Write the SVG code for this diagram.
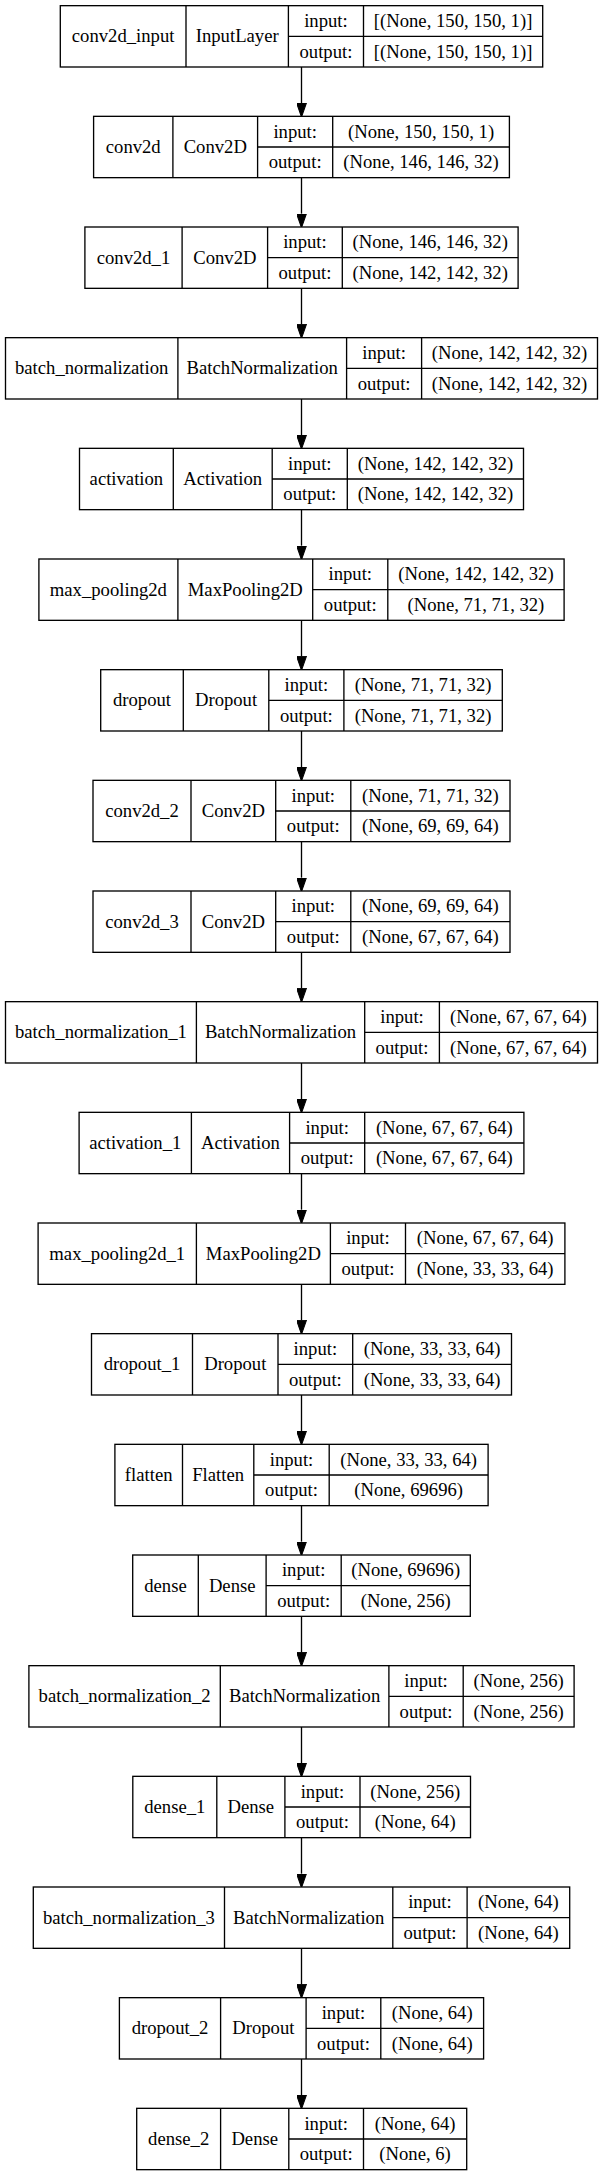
<svg xmlns="http://www.w3.org/2000/svg" width="603" height="2176" viewBox="0 0 603 2176">
<style>
.box{fill:#fff;stroke:#000;stroke-width:1.33}
.div{fill:none;stroke:#000;stroke-width:1.33}
text{font-family:"Liberation Serif","Times New Roman",serif;font-size:18.67px;fill:#000;text-anchor:middle}
.edge{stroke:#000;stroke-width:1.33;fill:none}
</style>
<defs>
<marker id="ah" markerUnits="userSpaceOnUse" markerWidth="14" markerHeight="10" refX="0" refY="4.67" orient="auto" viewBox="0 0 13.33 9.33">
<path d="M0,0 L13.33,4.67 L0,9.33 z" fill="#000" stroke="#000" stroke-width="1"/>
</marker>
</defs>
<rect x="0" y="0" width="603" height="2176" fill="#fff"/>
<g id="edges">
<line class="edge" x1="301.5" y1="67" x2="301.5" y2="103" marker-end="url(#ah)"/>
<line class="edge" x1="301.5" y1="177.67" x2="301.5" y2="213.67" marker-end="url(#ah)"/>
<line class="edge" x1="301.5" y1="288.33" x2="301.5" y2="324.33" marker-end="url(#ah)"/>
<line class="edge" x1="301.5" y1="399" x2="301.5" y2="435" marker-end="url(#ah)"/>
<line class="edge" x1="301.5" y1="509.67" x2="301.5" y2="545.67" marker-end="url(#ah)"/>
<line class="edge" x1="301.5" y1="620.33" x2="301.5" y2="656.33" marker-end="url(#ah)"/>
<line class="edge" x1="301.5" y1="731" x2="301.5" y2="767" marker-end="url(#ah)"/>
<line class="edge" x1="301.5" y1="841.67" x2="301.5" y2="877.67" marker-end="url(#ah)"/>
<line class="edge" x1="301.5" y1="952.33" x2="301.5" y2="988.33" marker-end="url(#ah)"/>
<line class="edge" x1="301.5" y1="1063" x2="301.5" y2="1099" marker-end="url(#ah)"/>
<line class="edge" x1="301.5" y1="1173.67" x2="301.5" y2="1209.67" marker-end="url(#ah)"/>
<line class="edge" x1="301.5" y1="1284.33" x2="301.5" y2="1320.33" marker-end="url(#ah)"/>
<line class="edge" x1="301.5" y1="1395" x2="301.5" y2="1431" marker-end="url(#ah)"/>
<line class="edge" x1="301.5" y1="1505.67" x2="301.5" y2="1541.67" marker-end="url(#ah)"/>
<line class="edge" x1="301.5" y1="1616.33" x2="301.5" y2="1652.33" marker-end="url(#ah)"/>
<line class="edge" x1="301.5" y1="1727" x2="301.5" y2="1763" marker-end="url(#ah)"/>
<line class="edge" x1="301.5" y1="1837.67" x2="301.5" y2="1873.67" marker-end="url(#ah)"/>
<line class="edge" x1="301.5" y1="1948.33" x2="301.5" y2="1984.33" marker-end="url(#ah)"/>
<line class="edge" x1="301.5" y1="2059" x2="301.5" y2="2095" marker-end="url(#ah)"/>
</g>
<g id="conv2d_input" transform="translate(0,5.67)">
<rect class="box" x="60.3" y="0" width="482.4" height="61.33"/>
<path class="div" d="M186,0V61.33M288.4,0V61.33M363.5,0V61.33M288.4,30.67H542.7"/>
<text x="123.15" y="36.5">conv2d_input</text><text x="237.2" y="36.5">InputLayer</text>
<text x="325.95" y="21.3">input:</text><text x="325.95" y="52">output:</text>
<text x="453.1" y="21.3">[(None, 150, 150, 1)]</text><text x="453.1" y="52">[(None, 150, 150, 1)]</text>
</g>
<g id="conv2d" transform="translate(0,116.33)">
<rect class="box" x="93.6" y="0" width="415.8" height="61.33"/>
<path class="div" d="M172.9,0V61.33M257.6,0V61.33M332.7,0V61.33M257.6,30.67H509.4"/>
<text x="133.25" y="36.5">conv2d</text><text x="215.25" y="36.5">Conv2D</text>
<text x="295.15" y="21.3">input:</text><text x="295.15" y="52">output:</text>
<text x="421.05" y="21.3">(None, 150, 150, 1)</text><text x="421.05" y="52">(None, 146, 146, 32)</text>
</g>
<g id="conv2d_1" transform="translate(0,227)">
<rect class="box" x="84.9" y="0" width="433.2" height="61.33"/>
<path class="div" d="M182.1,0V61.33M267.6,0V61.33M342.3,0V61.33M267.6,30.67H518.1"/>
<text x="133.5" y="36.5">conv2d_1</text><text x="224.85" y="36.5">Conv2D</text>
<text x="304.95" y="21.3">input:</text><text x="304.95" y="52">output:</text>
<text x="430.2" y="21.3">(None, 146, 146, 32)</text><text x="430.2" y="52">(None, 142, 142, 32)</text>
</g>
<g id="batch_normalization" transform="translate(0,337.67)">
<rect class="box" x="5.5" y="0" width="592" height="61.33"/>
<path class="div" d="M177.9,0V61.33M346.6,0V61.33M421.6,0V61.33M346.6,30.67H597.5"/>
<text x="91.7" y="36.5">batch_normalization</text><text x="262.25" y="36.5">BatchNormalization</text>
<text x="384.1" y="21.3">input:</text><text x="384.1" y="52">output:</text>
<text x="509.55" y="21.3">(None, 142, 142, 32)</text><text x="509.55" y="52">(None, 142, 142, 32)</text>
</g>
<g id="activation" transform="translate(0,448.33)">
<rect class="box" x="79.5" y="0" width="444" height="61.33"/>
<path class="div" d="M173.3,0V61.33M272.2,0V61.33M347.3,0V61.33M272.2,30.67H523.5"/>
<text x="126.4" y="36.5">activation</text><text x="222.75" y="36.5">Activation</text>
<text x="309.75" y="21.3">input:</text><text x="309.75" y="52">output:</text>
<text x="435.4" y="21.3">(None, 142, 142, 32)</text><text x="435.4" y="52">(None, 142, 142, 32)</text>
</g>
<g id="max_pooling2d" transform="translate(0,559)">
<rect class="box" x="38.9" y="0" width="525.2" height="61.33"/>
<path class="div" d="M177.9,0V61.33M312.7,0V61.33M387.8,0V61.33M312.7,30.67H564.1"/>
<text x="108.4" y="36.5">max_pooling2d</text><text x="245.3" y="36.5">MaxPooling2D</text>
<text x="350.25" y="21.3">input:</text><text x="350.25" y="52">output:</text>
<text x="475.95" y="21.3">(None, 142, 142, 32)</text><text x="475.95" y="52">(None, 71, 71, 32)</text>
</g>
<g id="dropout" transform="translate(0,669.67)">
<rect class="box" x="100.7" y="0" width="401.6" height="61.33"/>
<path class="div" d="M183.3,0V61.33M268.8,0V61.33M343.9,0V61.33M268.8,30.67H502.3"/>
<text x="142" y="36.5">dropout</text><text x="226.05" y="36.5">Dropout</text>
<text x="306.35" y="21.3">input:</text><text x="306.35" y="52">output:</text>
<text x="423.1" y="21.3">(None, 71, 71, 32)</text><text x="423.1" y="52">(None, 71, 71, 32)</text>
</g>
<g id="conv2d_2" transform="translate(0,780.33)">
<rect class="box" x="93" y="0" width="417" height="61.33"/>
<path class="div" d="M191,0V61.33M275.7,0V61.33M350.8,0V61.33M275.7,30.67H510"/>
<text x="142" y="36.5">conv2d_2</text><text x="233.35" y="36.5">Conv2D</text>
<text x="313.25" y="21.3">input:</text><text x="313.25" y="52">output:</text>
<text x="430.4" y="21.3">(None, 71, 71, 32)</text><text x="430.4" y="52">(None, 69, 69, 64)</text>
</g>
<g id="conv2d_3" transform="translate(0,891)">
<rect class="box" x="93" y="0" width="417" height="61.33"/>
<path class="div" d="M191,0V61.33M275.7,0V61.33M350.8,0V61.33M275.7,30.67H510"/>
<text x="142" y="36.5">conv2d_3</text><text x="233.35" y="36.5">Conv2D</text>
<text x="313.25" y="21.3">input:</text><text x="313.25" y="52">output:</text>
<text x="430.4" y="21.3">(None, 69, 69, 64)</text><text x="430.4" y="52">(None, 67, 67, 64)</text>
</g>
<g id="batch_normalization_1" transform="translate(0,1001.67)">
<rect class="box" x="5.5" y="0" width="592" height="61.33"/>
<path class="div" d="M196.4,0V61.33M364.7,0V61.33M439.4,0V61.33M364.7,30.67H597.5"/>
<text x="100.95" y="36.5">batch_normalization_1</text><text x="280.55" y="36.5">BatchNormalization</text>
<text x="402.05" y="21.3">input:</text><text x="402.05" y="52">output:</text>
<text x="518.45" y="21.3">(None, 67, 67, 64)</text><text x="518.45" y="52">(None, 67, 67, 64)</text>
</g>
<g id="activation_1" transform="translate(0,1112.33)">
<rect class="box" x="79.1" y="0" width="444.8" height="61.33"/>
<path class="div" d="M191.4,0V61.33M289.6,0V61.33M364.7,0V61.33M289.6,30.67H523.9"/>
<text x="135.25" y="36.5">activation_1</text><text x="240.5" y="36.5">Activation</text>
<text x="327.15" y="21.3">input:</text><text x="327.15" y="52">output:</text>
<text x="444.3" y="21.3">(None, 67, 67, 64)</text><text x="444.3" y="52">(None, 67, 67, 64)</text>
</g>
<g id="max_pooling2d_1" transform="translate(0,1223)">
<rect class="box" x="38.1" y="0" width="526.8" height="61.33"/>
<path class="div" d="M196.4,0V61.33M330.4,0V61.33M405.5,0V61.33M330.4,30.67H564.9"/>
<text x="117.25" y="36.5">max_pooling2d_1</text><text x="263.4" y="36.5">MaxPooling2D</text>
<text x="367.95" y="21.3">input:</text><text x="367.95" y="52">output:</text>
<text x="485.2" y="21.3">(None, 67, 67, 64)</text><text x="485.2" y="52">(None, 33, 33, 64)</text>
</g>
<g id="dropout_1" transform="translate(0,1333.67)">
<rect class="box" x="91.5" y="0" width="420" height="61.33"/>
<path class="div" d="M192.5,0V61.33M278,0V61.33M352.7,0V61.33M278,30.67H511.5"/>
<text x="142" y="36.5">dropout_1</text><text x="235.25" y="36.5">Dropout</text>
<text x="315.35" y="21.3">input:</text><text x="315.35" y="52">output:</text>
<text x="432.1" y="21.3">(None, 33, 33, 64)</text><text x="432.1" y="52">(None, 33, 33, 64)</text>
</g>
<g id="flatten" transform="translate(0,1444.33)">
<rect class="box" x="114.9" y="0" width="373.2" height="61.33"/>
<path class="div" d="M182.5,0V61.33M253.8,0V61.33M329.2,0V61.33M253.8,30.67H488.1"/>
<text x="148.7" y="36.5">flatten</text><text x="218.15" y="36.5">Flatten</text>
<text x="291.5" y="21.3">input:</text><text x="291.5" y="52">output:</text>
<text x="408.65" y="21.3">(None, 33, 33, 64)</text><text x="408.65" y="52">(None, 69696)</text>
</g>
<g id="dense" transform="translate(0,1555)">
<rect class="box" x="132.7" y="0" width="337.6" height="61.33"/>
<path class="div" d="M198.3,0V61.33M266.1,0V61.33M341.2,0V61.33M266.1,30.67H470.3"/>
<text x="165.5" y="36.5">dense</text><text x="232.2" y="36.5">Dense</text>
<text x="303.65" y="21.3">input:</text><text x="303.65" y="52">output:</text>
<text x="405.75" y="21.3">(None, 69696)</text><text x="405.75" y="52">(None, 256)</text>
</g>
<g id="batch_normalization_2" transform="translate(0,1665.67)">
<rect class="box" x="28.9" y="0" width="545.2" height="61.33"/>
<path class="div" d="M220.3,0V61.33M388.9,0V61.33M463.2,0V61.33M388.9,30.67H574.1"/>
<text x="124.6" y="36.5">batch_normalization_2</text><text x="304.6" y="36.5">BatchNormalization</text>
<text x="426.05" y="21.3">input:</text><text x="426.05" y="52">output:</text>
<text x="518.65" y="21.3">(None, 256)</text><text x="518.65" y="52">(None, 256)</text>
</g>
<g id="dense_1" transform="translate(0,1776.33)">
<rect class="box" x="132.8" y="0" width="337.7" height="61.33"/>
<path class="div" d="M216.8,0V61.33M284.9,0V61.33M360,0V61.33M284.9,30.67H470.5"/>
<text x="174.8" y="36.5">dense_1</text><text x="250.85" y="36.5">Dense</text>
<text x="322.45" y="21.3">input:</text><text x="322.45" y="52">output:</text>
<text x="415.25" y="21.3">(None, 256)</text><text x="415.25" y="52">(None, 64)</text>
</g>
<g id="batch_normalization_3" transform="translate(0,1887)">
<rect class="box" x="33.3" y="0" width="536.4" height="61.33"/>
<path class="div" d="M224.5,0V61.33M392.8,0V61.33M467.1,0V61.33M392.8,30.67H569.7"/>
<text x="128.9" y="36.5">batch_normalization_3</text><text x="308.65" y="36.5">BatchNormalization</text>
<text x="429.95" y="21.3">input:</text><text x="429.95" y="52">output:</text>
<text x="518.4" y="21.3">(None, 64)</text><text x="518.4" y="52">(None, 64)</text>
</g>
<g id="dropout_2" transform="translate(0,1997.67)">
<rect class="box" x="119.4" y="0" width="364.2" height="61.33"/>
<path class="div" d="M220.6,0V61.33M306.1,0V61.33M380.8,0V61.33M306.1,30.67H483.6"/>
<text x="170" y="36.5">dropout_2</text><text x="263.35" y="36.5">Dropout</text>
<text x="343.45" y="21.3">input:</text><text x="343.45" y="52">output:</text>
<text x="432.2" y="21.3">(None, 64)</text><text x="432.2" y="52">(None, 64)</text>
</g>
<g id="dense_2" transform="translate(0,2108.33)">
<rect class="box" x="136.7" y="0" width="330" height="61.33"/>
<path class="div" d="M220.6,0V61.33M288.8,0V61.33M363.5,0V61.33M288.8,30.67H466.7"/>
<text x="178.65" y="36.5">dense_2</text><text x="254.7" y="36.5">Dense</text>
<text x="326.15" y="21.3">input:</text><text x="326.15" y="52">output:</text>
<text x="415.1" y="21.3">(None, 64)</text><text x="415.1" y="52">(None, 6)</text>
</g>
</svg>
